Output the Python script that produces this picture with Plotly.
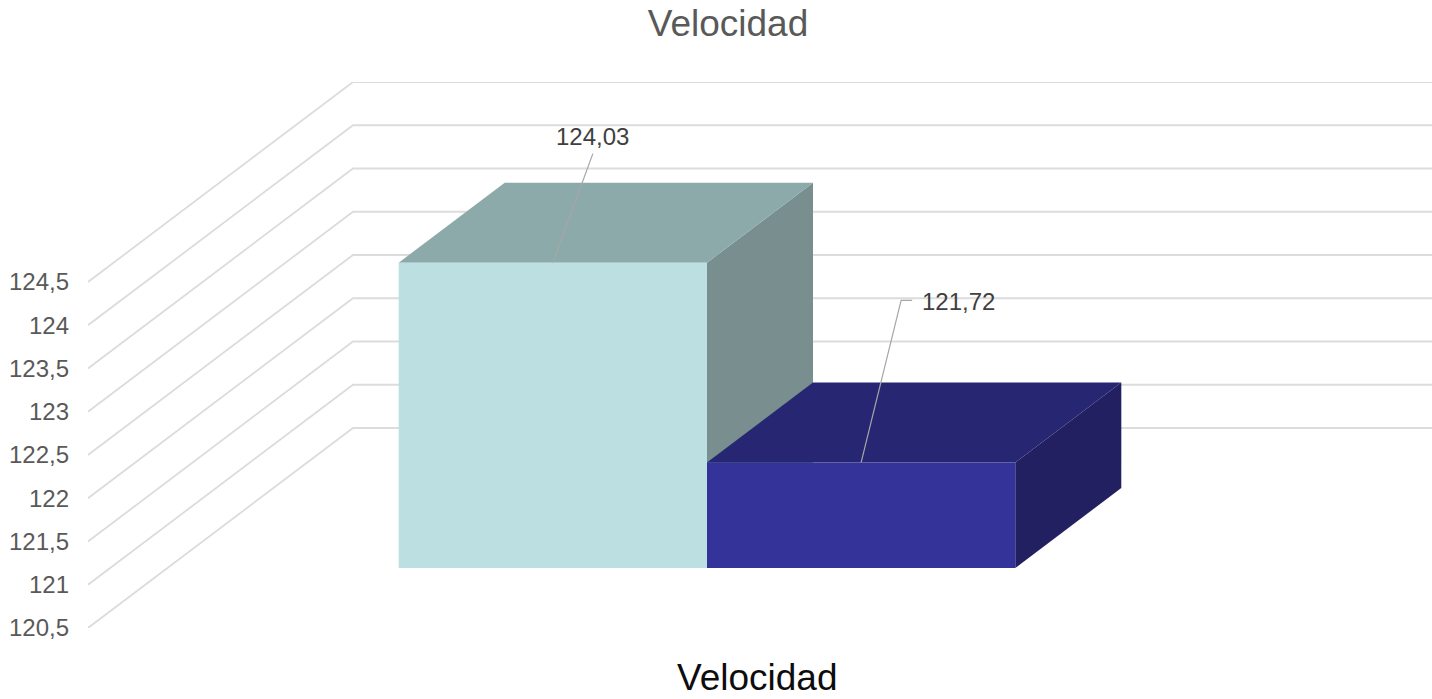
import plotly.graph_objects as go

# ---- data ----
categories = ["Velocidad"]
series_names = ["Serie 1", "Serie 2"]
series_values = [124.03, 121.72]
value_labels = ["124,03", "121,72"]
tick_values = [120.5, 121, 121.5, 122, 122.5, 123, 123.5, 124, 124.5]
tick_labels = ["120,5", "121", "121,5", "122", "122,5", "123", "123,5", "124", "124,5"]

# ---- style ----
FONT = "Liberation Sans, Arial, sans-serif"
face_colors = [
    {"front": "#BCE0E1", "top": "#8DAAAB", "side": "#788E8F"},
    {"front": "#333399", "top": "#262673", "side": "#222060"},
]
GRID_COLOR = "#DCDCDC"

W, H = 1432, 699
M_L, M_R, M_T, M_B = 88, 0, 82, 71

# oblique 3D projection: depth 1 shifts by (DX category units, DY value units)
GAP_WIDTH = 1.5
GAP_DEPTH = 1.5
Y_MIN, Y_MAX = tick_values[0], tick_values[-1]
plot_w = W - M_L - M_R
plot_h = H - M_T - M_B
DEPTH_PX_X, DEPTH_PX_Y = 265, 200
px_per_x = (plot_w - DEPTH_PX_X)  # front plane spans one category unit
DX = DEPTH_PX_X / px_per_x
x_range = [0, 1 + DX]
px_per_y = (plot_h - DEPTH_PX_Y) / (Y_MAX - Y_MIN)
DY = DEPTH_PX_Y / px_per_y
y_range = [Y_MIN, Y_MAX + DY]


def proj(x, v, d):
    return x + d * DX, v + d * DY


def poly(points, color):
    xs, ys = zip(*[proj(*p) for p in points])
    return go.Scatter(
        x=list(xs) + [xs[0]], y=list(ys) + [ys[0]],
        mode="lines", fill="toself", fillcolor=color,
        line=dict(width=0, color=color), hoverinfo="skip", showlegend=False,
    )


fig = go.Figure()

# walls: side wall diagonals + back wall horizontals for each tick
for v in tick_values:
    pts = [proj(0, v, 0), proj(0, v, 1), proj(1, v, 1)]
    fig.add_trace(go.Scatter(
        x=[p[0] for p in pts], y=[p[1] for p in pts], mode="lines",
        line=dict(color=GRID_COLOR, width=1.8), hoverinfo="skip", showlegend=False,
    ))

# 3D columns
n = len(series_values)
bw = 1 / (n + GAP_WIDTH)
d0 = (GAP_DEPTH / 2) / (1 + GAP_DEPTH)
d1 = d0 + 1 / (1 + GAP_DEPTH)
anchors = []
for i, (v, cols) in enumerate(zip(series_values, face_colors)):
    x0 = (GAP_WIDTH / 2 + i) * bw
    x1 = x0 + bw
    fig.add_trace(poly([(x1, Y_MIN, d0), (x1, Y_MIN, d1), (x1, v, d1), (x1, v, d0)], cols["side"]))
    fig.add_trace(poly([(x0, v, d0), (x1, v, d0), (x1, v, d1), (x0, v, d1)], cols["top"]))
    fig.add_trace(poly([(x0, Y_MIN, d0), (x1, Y_MIN, d0), (x1, v, d0), (x0, v, d0)], cols["front"]))
    anchors.append(proj((x0 + x1) / 2, v, d0))

# data labels with leader lines (offsets in pixels)
label_offsets = [(40, 126), (97, 161)]
leader_paths = [
    [(0, 0), (40, 109)],
    [(0, 0), (40, 162), (51, 162)],
]
for (ax_, ay_), (dx_px, dy_px), path, text in zip(anchors, label_offsets, leader_paths, value_labels):
    fig.add_trace(go.Scatter(
        x=[ax_ + px / px_per_x for px, _ in path],
        y=[ay_ + py / px_per_y for _, py in path],
        mode="lines", line=dict(color="#A6A6A6", width=1.2),
        hoverinfo="skip", showlegend=False,
    ))
    fig.add_annotation(
        x=ax_, y=ay_, xref="x", yref="y", text=text, showarrow=False,
        xshift=dx_px, yshift=dy_px, xanchor="center", yanchor="middle",
        font=dict(family=FONT, size=24, color="#404040"),
    )

# category axis title
fig.add_annotation(
    x=(757 - M_L) / plot_w, y=0, xref="paper", yref="paper",
    text=categories[0], showarrow=False, yshift=-49, yanchor="middle",
    font=dict(family=FONT, size=37, color="#0D0D0D"),
)

fig.update_layout(
    width=W, height=H,
    margin=dict(l=M_L, r=M_R, t=M_T, b=M_B),
    paper_bgcolor="white", plot_bgcolor="white",
    title=dict(
        text="Velocidad", x=728 / W, xanchor="center",
        y=1 - 23 / H, yanchor="middle", yref="container",
        font=dict(family=FONT, size=37, color="#595959"),
    ),
    xaxis=dict(range=x_range, visible=False, fixedrange=True),
    yaxis=dict(
        range=y_range, tickvals=tick_values, ticktext=tick_labels,
        showgrid=False, zeroline=False, showline=False, ticks="",
        ticklabelstandoff=18, fixedrange=True,
        tickfont=dict(family=FONT, size=24, color="#595959"),
    ),
    showlegend=False,
)

fig.write_html("out.html")
